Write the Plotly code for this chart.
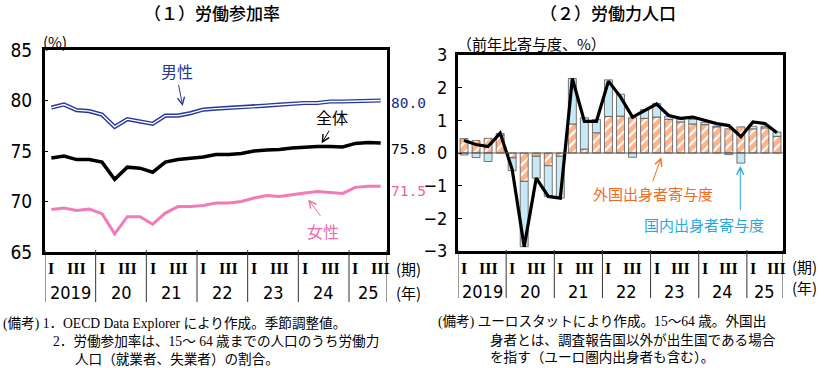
import plotly.graph_objects as go

W, H = 819, 368

# ---------------- data ----------------
years = ["2019", "20", "21", "22", "23", "24", "25"]
quarters_per_year = [4, 4, 4, 4, 4, 4, 3]
quarter_marks = ["I", "", "III", ""]

# (1) labour force participation rate (%)
male = [79.3, 79.6, 79.05, 78.95, 78.6, 77.4, 78.15, 77.9, 77.7, 78.5, 78.5, 78.75,
        79.1, 79.2, 79.25, 79.3, 79.4, 79.5, 79.6, 79.7, 79.75, 79.75, 79.9, 79.9,
        79.95, 80.0, 80.0]
total = [74.3, 74.5, 74.15, 74.15, 73.9, 72.2, 73.4, 73.3, 72.9, 73.9, 74.15, 74.25,
         74.4, 74.65, 74.65, 74.75, 75.0, 75.1, 75.15, 75.3, 75.4, 75.45, 75.45, 75.4,
         75.75, 75.85, 75.8]
female = [69.2, 69.35, 69.1, 69.25, 68.8, 66.8, 68.5, 68.5, 67.75, 68.85, 69.5, 69.5,
          69.6, 69.85, 69.85, 70.0, 70.35, 70.6, 70.5, 70.7, 70.85, 71.0, 70.9, 70.8,
          71.4, 71.5, 71.5]
end_labels = ["80.0", "75.8", "71.5"]

# (2) labour force, contribution to y/y change (%)
foreign = [0.44, 0.38, 0.45, 0.55, -0.15, -0.87, -0.10, -0.39, -0.10, 0.89, 0.12, 0.62,
           1.12, 1.13, 1.08, 1.06, 1.10, 1.03, 0.95, 0.89, 0.87, 0.80, 0.74, 0.80,
           0.74, 0.77, 0.51]
domestic = [-0.06, -0.14, -0.26, 0.05, -0.39, -2.00, -0.67, -0.94, -1.28, 1.39, 0.96, 0.41,
            1.12, 0.67, -0.13, 0.27, 0.42, 0.10, 0.08, 0.14, 0.07, 0.02, -0.05, -0.31,
            0.08, 0.05, 0.13]
lf_total = [0.38, 0.26, 0.20, 0.61, -0.50, -2.87, -0.77, -1.33, -1.38, 2.28, 0.97, 0.97,
            2.20, 1.72, 1.10, 1.30, 1.50, 1.15, 1.06, 1.10, 1.00, 0.90, 0.84, 0.50,
            0.95, 0.90, 0.62]

n = len(male)
idx = list(range(n))

# ---------------- styling ----------------
NUM_FONT = "Liberation Sans Narrow, DejaVu Sans Condensed, Arial Narrow, Liberation Sans, sans-serif"
JP_FONT = "Noto Sans CJK JP, sans-serif"
SERIF = "Liberation Serif, DejaVu Serif, serif"
NAVY = "#27379a"
PINK = "#f27ab8"
ORANGE = "#ff6410"
LBLUE = "#c7e9f6"
SKY = "#27a8e0"


def px(x):
    return x / W


def py(y):
    return 1 - y / H


fig = go.Figure()

# left chart lines
fig.add_trace(go.Scatter(x=idx, y=male, mode="lines", line=dict(color=NAVY, width=4.2),
                         xaxis="x", yaxis="y", hoverinfo="skip"))
fig.add_trace(go.Scatter(x=idx, y=male, mode="lines", line=dict(color="white", width=1.4),
                         xaxis="x", yaxis="y", hoverinfo="skip"))
fig.add_trace(go.Scatter(x=idx, y=total, mode="lines", line=dict(color="black", width=3.5),
                         xaxis="x", yaxis="y", hoverinfo="skip"))
fig.add_trace(go.Scatter(x=idx, y=female, mode="lines", line=dict(color=PINK, width=3),
                         xaxis="x", yaxis="y", hoverinfo="skip"))

# right chart bars + line
fig.add_trace(go.Bar(x=idx, y=foreign, width=0.66, xaxis="x2", yaxis="y2",
                     marker=dict(color="white", line=dict(color="#555555", width=0.8),
                                 pattern=dict(shape="/", fgcolor=ORANGE, bgcolor="white",
                                              size=7, solidity=0.7)),
                     hoverinfo="skip"))
fig.add_trace(go.Bar(x=idx, y=domestic, width=0.66, xaxis="x2", yaxis="y2",
                     marker=dict(color=LBLUE, line=dict(color="#555555", width=0.8)),
                     hoverinfo="skip"))
fig.add_trace(go.Scatter(x=idx, y=lf_total, mode="lines", line=dict(color="black", width=3.2),
                         xaxis="x2", yaxis="y2", hoverinfo="skip"))

axis_common = dict(showline=True, mirror=True, linewidth=3, linecolor="black",
                   showgrid=False, zeroline=False, automargin=False)

fig.update_layout(
    width=W, height=H,
    margin=dict(l=0, r=0, t=0, b=0, pad=0),
    paper_bgcolor="white", plot_bgcolor="white",
    showlegend=False, barmode="relative", bargap=0.3,
    xaxis=dict(domain=[px(45), px(387)], range=[-0.5, n - 0.5], showticklabels=False,
               ticks="", anchor="y", **axis_common),
    yaxis=dict(domain=[py(252), py(50)], range=[65, 85], tickvals=[65, 70, 75, 80, 85],
               ticks="inside", ticklen=3, tickwidth=1, tickcolor="black",
               ticklabelstandoff=6,
               tickfont=dict(family=NUM_FONT, size=19, color="black"),
               anchor="x", **axis_common),
    xaxis2=dict(domain=[px(458), px(783)], range=[-0.5, n - 0.5], showticklabels=False,
                ticks="", anchor="y2", **axis_common),
    yaxis2=dict(domain=[py(251), py(55)], range=[-3, 3], tickvals=[-3, -2, -1, 0, 1, 2, 3],
                ticktext=["−3", "−2", "−1", "0", "1", "2", "3"],
                ticks="inside", ticklen=4, tickwidth=1, tickcolor="black",
                ticklabelstandoff=4,
                tickfont=dict(family=NUM_FONT, size=18, color="black"),
                anchor="x2", **axis_common),
)

# zero line in right chart
fig.add_shape(type="line", xref="x2 domain", yref="y2", x0=0, x1=1, y0=0, y1=0,
              line=dict(color="#555555", width=1))

ann = []


def text(x, y, s, size=14, color="black", font=JP_FONT, xanchor="center", yanchor="middle", weight=None):
    f = dict(family=font, size=size, color=color)
    if weight:
        f["weight"] = weight
    ann.append(dict(x=x, y=y, xref="paper", yref="paper", text=s, showarrow=False,
                    font=f, xanchor=xanchor, yanchor=yanchor, borderpad=0))


# x-axis category labels (both charts)
for xa, row1_y, row2_y, sep_bottom in (("x", 268, 292, 302), ("x2", 268, 291, 298)):
    start = 0
    for yr, nq in zip(years, quarters_per_year):
        for q in range(nq):
            mark = quarter_marks[q]
            if mark:
                ann.append(dict(x=start + q, y=py(row1_y), xref=xa, yref="paper", text=mark,
                                showarrow=False,
                                font=dict(family=SERIF, size=16, color="black", weight="bold"),
                                xanchor="center", yanchor="middle"))
        ann.append(dict(x=start + (nq - 1) / 2, y=py(row2_y), xref=xa, yref="paper", text=yr,
                        showarrow=False, font=dict(family=NUM_FONT, size=18, color="black"),
                        xanchor="center", yanchor="middle"))
        fig.add_shape(type="line", xref=xa, yref="paper", x0=start - 0.5, x1=start - 0.5,
                      y0=py(250), y1=py(sep_bottom), line=dict(color="#333333", width=1))
        start += nq
    fig.add_shape(type="line", xref=xa, yref="paper", x0=start - 0.5, x1=start - 0.5,
                  y0=py(250), y1=py(sep_bottom), line=dict(color="#333333", width=1))

text(px(395), py(268), "(期)", size=15, xanchor="left")
text(px(395), py(292), "(年)", size=15, xanchor="left")
text(px(818), py(266), "(期)", size=15, xanchor="right")
text(px(818), py(287), "(年)", size=15, xanchor="right")

# titles and unit labels
text(px(212), py(13), "（１）労働参加率", size=17, weight=500)
text(px(608), py(13), "（２）労働力人口", size=17, weight=500)
text(px(42), py(42), "(%)", size=15, xanchor="left")
text(px(456), py(43), "（前年比寄与度、%）", size=15, xanchor="left")

# end values
MONO = "DejaVu Sans Mono, monospace"
text(px(390), py(103), end_labels[0], size=14.5, color="#1a2a8c", font=MONO, xanchor="left")
text(px(390), py(149), end_labels[1], size=14.5, color="black", font=MONO, xanchor="left")
text(px(390), py(191), end_labels[2], size=14.5, color="#f060a0", font=MONO, xanchor="left")

# series labels
ann.append(dict(x=9.96, y=82.94, xref="x", yref="y", text="男性", showarrow=False,
                font=dict(family=JP_FONT, size=16, color=NAVY)))
ann.append(dict(x=22.13, y=78.32, xref="x", yref="y", text="全体", showarrow=False,
                font=dict(family=JP_FONT, size=16, color="black")))
ann.append(dict(x=21.41, y=67.07, xref="x", yref="y", text="女性", showarrow=False,
                font=dict(family=JP_FONT, size=16, color="#ee6aaa")))
ann.append(dict(x=15.7, y=-1.25, xref="x2", yref="y2", text="外国出身者寄与度", showarrow=False,
                font=dict(family=JP_FONT, size=15, color="#f26b1d")))
ann.append(dict(x=19.97, y=-2.18, xref="x2", yref="y2", text="国内出身者寄与度", showarrow=False,
                font=dict(family=JP_FONT, size=15, color=SKY)))


def arrow(xr, yr, x0, y0, x1, y1, color):
    ann.append(dict(x=x1, y=y1, ax=x0, ay=y0, xref=xr, yref=yr, axref=xr, ayref=yr,
                    text="", showarrow=True, arrowhead=5, arrowsize=1.4, arrowwidth=1,
                    arrowcolor=color))


arrow("x", "y", 10.02, 81.7, 10.37, 79.46, NAVY)
arrow("x", "y", 22.0, 77.15, 21.34, 75.76, "black")
arrow("x", "y", 21.34, 68.42, 20.29, 70.2, "#ee6aaa")
arrow("x2", "y2", 15.64, -0.91, 16.39, -0.13, "#f26b1d")
arrow("x2", "y2", 22.95, -1.8, 22.95, -0.4, SKY)

# notes
NOTE = "Liberation Serif, Noto Sans CJK JP, serif"
NS = 13.6
text(px(2), py(323), "(備考) 1．OECD Data Explorer により作成。季節調整値。", size=NS, font=NOTE, xanchor="left")
text(px(52), py(341), "2．労働参加率は、15～ 64 歳までの人口のうち労働力", size=NS, font=NOTE, xanchor="left")
text(px(74), py(359), "人口（就業者、失業者）の割合。", size=NS, font=NOTE, xanchor="left")
text(px(437), py(322), "(備考) ユーロスタットにより作成。15～64 歳。外国出", size=NS, font=NOTE, xanchor="left")
text(px(489), py(340), "身者とは、調査報告国以外が出生国である場合", size=NS, font=NOTE, xanchor="left")
text(px(489), py(357), "を指す（ユーロ圏内出身者も含む）。", size=NS, font=NOTE, xanchor="left")

fig.update_layout(annotations=ann)
fig.write_html("out.html", config={"displayModeBar": False},
               post_script="document.body.style.margin='0px';document.body.style.overflow='hidden';")
